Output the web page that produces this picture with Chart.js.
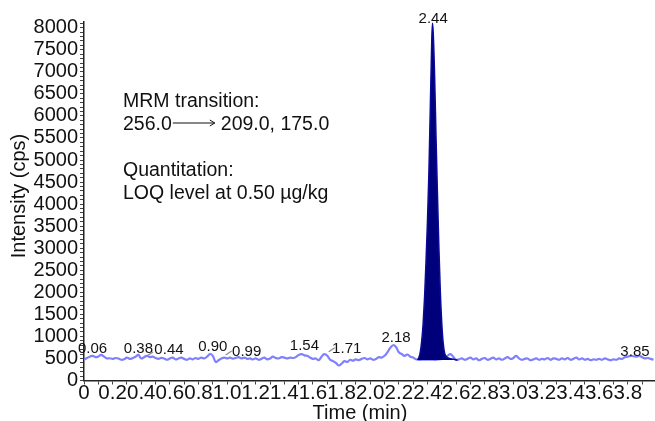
<!DOCTYPE html>
<html>
<head>
<meta charset="utf-8">
<script src="https://cdn.jsdelivr.net/npm/chart.js@4.4.1/dist/chart.umd.min.js"></script>
<style>
  body { margin: 0; background: #fff; }
  #wrap { width: 655px; height: 421px; position: relative; }
</style>
</head>
<body>
<div id="wrap"><canvas id="chromChart"></canvas></div>
<script>
// baseline trace, one reading every 0.02 min from 0.00
const baseStep = 0.02;
const baseline = [
  470, 510, 540, 560, 530, 545, 580, 540, 500, 505,
  490, 510, 500, 470, 480, 520, 490, 510, 540, 580,
  500, 530, 560, 530, 540, 510, 490, 515, 500, 470,
  500, 520, 480, 500, 520, 490, 470, 500, 480, 510,
  490, 520, 500, 540, 600, 560, 420, 460, 500, 520,
  500, 520, 495, 510, 530, 500, 520, 490, 500, 480,
  500, 470, 490, 520, 480, 500, 540, 510, 500, 530,
  520, 500, 520, 510, 530, 580, 600, 570, 560, 520,
  490, 500, 460, 540, 600, 560, 470, 440, 400, 340,
  380, 440, 420, 470, 450, 480, 460, 490, 510, 480,
  500, 470, 490, 530, 520, 560, 640, 740, 800, 760,
  640, 600, 560, 590, 540, 520, 480, 470, 470, 470,
  470, 470, 470, 470, 480, 490, 510, 560, 600, 540,
  470, 480, 500, 470, 490, 520, 480, 500, 460, 490,
  510, 470, 490, 520, 480, 500, 470, 500, 530, 490,
  510, 560, 500, 470, 490, 500, 460, 480, 500, 470,
  490, 480, 510, 470, 500, 490, 470, 500, 480, 510,
  470, 490, 520, 480, 500, 470, 490, 460, 480, 470,
  490, 470, 500, 480, 460, 480, 470, 500, 490, 530,
  540, 560, 550, 540, 560, 530, 500, 510, 490, 470
];

// the main analyte peak (filled)
const peakTimes = [2.33, 2.34, 2.35, 2.36, 2.37, 2.38, 2.39, 2.40, 2.41, 2.42, 2.43, 2.435,
  2.44, 2.45, 2.46, 2.47, 2.48, 2.49, 2.50, 2.51, 2.52, 2.54, 2.57, 2.61];
const peakValues = [465, 520, 650, 900, 1300, 1900, 2700, 3600, 4700, 6200, 7700, 8100,
  7900, 6900, 5500, 4200, 3000, 2000, 1300, 850, 620, 520, 490, 465];
const peakFloor = 465;

// retention-time labels
const labelTimes = [0.06, 0.38, 0.44, 0.90, 0.99, 1.54, 1.71, 2.18, 2.44, 3.85];
const labelValues = [579, 579, 556, 624, 579, 647, 654, 829, 8075, 511];

const yTickValues = [];
for (let v = 0; v <= 8100; v += 100) yTickValues.push(v);
const xTickValues = [];
for (let i = 0; i <= 39; i++) xTickValues.push(i / 10);

const notes = [
  "MRM transition:",
  ["256.0", "209.0, 175.0"],
  "Quantitation:",
  "LOQ level at 0.50 \u00b5g/kg",
];

const FONT = "'Liberation Sans', Arial, Helvetica, sans-serif";

const basePoints = baseline.map((v, i) => ({ x: +(i * baseStep).toFixed(2), y: v }));
const peakPoints = peakTimes.map((t, i) => ({ x: t, y: peakValues[i] }));

// labels shifted aside get a short leader line
const labelShift = { "0.44": [22, 0], "0.99": [21, 3], "1.71": [18, 3] };

const annotatePlugin = {
  id: "annotate",
  afterDraw(chart) {
    const ctx = chart.ctx;
    const xs = chart.scales.x;
    const ys = chart.scales.y;
    ctx.save();

    // peak labels
    ctx.font = "15px " + FONT;
    ctx.textAlign = "center";
    ctx.textBaseline = "middle";
    labelTimes.forEach((t, i) => {
      const txt = t.toFixed(2);
      const px = xs.getPixelForValue(t);
      const py = ys.getPixelForValue(labelValues[i]);
      const sh = labelShift[txt] || [0, 0];
      if (sh[0]) {
        ctx.strokeStyle = "#8a8a8a";
        ctx.lineWidth = 1.2;
        ctx.beginPath();
        ctx.moveTo(px, py);
        ctx.lineTo(px + 6, py - 4);
        ctx.stroke();
      }
      ctx.fillStyle = "#111";
      ctx.fillText(txt, px + sh[0], py - 6 + sh[1]);
    });

    // method notes
    ctx.font = "19.5px " + FONT;
    ctx.textAlign = "left";
    ctx.textBaseline = "alphabetic";
    ctx.fillStyle = "#111";
    const x0 = 123;
    const lineY = [107, 129.5, 175.5, 199];
    notes.forEach((n, i) => {
      if (Array.isArray(n)) {
        ctx.fillText(n[0], x0, lineY[i]);
        const ax = x0 + ctx.measureText(n[0]).width + 1;
        const aw = 42;
        const ay = lineY[i] - 6.5;
        ctx.strokeStyle = "#111";
        ctx.lineWidth = 1;
        ctx.beginPath();
        ctx.moveTo(ax, ay);
        ctx.lineTo(ax + aw, ay);
        ctx.moveTo(ax + aw - 5, ay - 3);
        ctx.lineTo(ax + aw, ay);
        ctx.lineTo(ax + aw - 5, ay + 3);
        ctx.stroke();
        ctx.fillText(n[1], ax + aw + 6, lineY[i]);
      } else {
        ctx.fillText(n, x0, lineY[i]);
      }
    });

    // axis titles
    ctx.font = "20px " + FONT;
    ctx.textAlign = "center";
    ctx.fillText("Time (min)", 360, 419);
    ctx.translate(25, 196);
    ctx.rotate(-Math.PI / 2);
    ctx.fillText("Intensity (cps)", 0, 0);
    ctx.restore();
  },
};

new Chart(document.getElementById("chromChart"), {
  type: "line",
  data: {
    datasets: [
      {
        label: "peak",
        data: peakPoints,
        borderColor: "#0a0a9a",
        borderWidth: 1.5,
        backgroundColor: "#00007a",
        fill: { value: peakFloor },
        cubicInterpolationMode: "monotone",
        pointRadius: 0,
        order: 0,
      },
      {
        label: "trace",
        data: basePoints,
        borderColor: "#8080ff",
        borderWidth: 2.2,
        tension: 0.4,
        fill: false,
        pointRadius: 0,
        order: 1,
      },
    ],
  },
  options: {
    responsive: true,
    maintainAspectRatio: false,
    animation: false,
    layout: { padding: { top: 22, right: 0, bottom: 0, left: 0 } },
    plugins: {
      legend: { display: false },
      tooltip: { enabled: false },
    },
    scales: {
      x: {
        type: "linear",
        min: 0,
        max: 3.99,
        afterBuildTicks: (s) => {
          s.ticks = xTickValues.map((v) => ({ value: v }));
        },
        afterFit: (s) => {
          s.height = 40.5;
        },
        ticks: {
          autoSkip: false,
          maxRotation: 0,
          padding: -3,
          color: "#111",
          font: { family: FONT, size: 20.5 },
          callback: (v) => {
            const k = Math.round(v * 10);
            if (k % 2 !== 0) return "";
            return k === 0 ? "0" : v.toFixed(1);
          },
        },
        grid: {
          drawOnChartArea: false,
          drawTicks: true,
          tickLength: 4,
          tickColor: "#444",
        },
        border: { display: true, color: "#222", width: 1.5 },
      },
      y: {
        min: 0,
        max: 8130,
        afterBuildTicks: (s) => {
          s.ticks = yTickValues.map((v) => ({ value: v }));
        },
        afterFit: (s) => {
          s.width = 84;
        },
        ticks: {
          autoSkip: false,
          padding: 2,
          color: "#111",
          font: { family: FONT, size: 20 },
          callback: (v) => (v % 500 === 0 ? String(v) : ""),
        },
        grid: {
          drawOnChartArea: false,
          drawTicks: true,
          tickLength: 4,
          tickColor: "#444",
        },
        border: { display: true, color: "#222", width: 1.5 },
      },
    },
  },
  plugins: [annotatePlugin],
});
</script>
</body>
</html>
